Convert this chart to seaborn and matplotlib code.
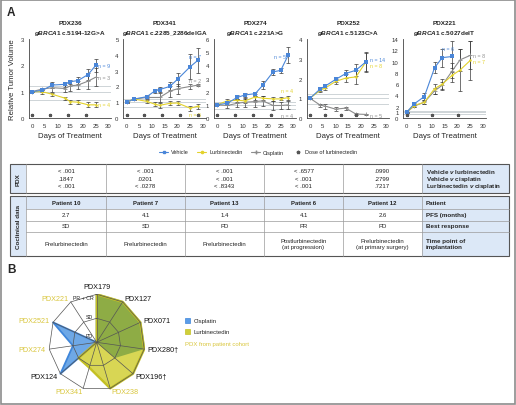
import numpy as np
import matplotlib
matplotlib.use("Agg")
import matplotlib.pyplot as plt
import seaborn as sns
from matplotlib.lines import Line2D
from matplotlib.patches import Rectangle

sns.set_theme(style="white")
plt.rcParams['font.family'] = ['Liberation Sans', 'DejaVu Sans']
plt.rcParams['mathtext.fontset'] = 'custom'
plt.rcParams['mathtext.it'] = 'Liberation Sans:italic:bold'
plt.rcParams['mathtext.rm'] = 'Liberation Sans:bold'

# ---- panel A data (relative tumor volume) ----
pdx_names = ['PDX236', 'PDX341', 'PDX274', 'PDX252', 'PDX221']
mutations = ['c.5194-12G>A', 'c.2285_2286delGA', 'c.221A>G', 'c.5123C>A', 'c.5027delT']
y_max = [3, 5, 6, 4, 14]

days_236 = [0, 4, 8, 13, 15, 18, 22, 25]
veh_236 = [1.0, 1.05, 1.25, 1.28, 1.38, 1.42, 1.65, 2.0]
veh_236_err = [0.02, 0.08, 0.1, 0.1, 0.08, 0.12, 0.2, 0.25]
lur_236 = [1.0, 1.0, 0.9, 0.75, 0.62, 0.6, 0.5, 0.5]
lur_236_err = [0.02, 0.08, 0.06, 0.05, 0.08, 0.08, 0.1, 0.1]
cis_236 = [1.0, 1.1, 1.15, 1.12, 1.22, 1.25, 1.4, 1.55]
cis_236_err = [0.02, 0.05, 0.15, 0.15, 0.2, 0.15, 0.3, 0.35]
dose_236 = [0, 7, 14, 21]

days_341 = [0, 3, 8, 11, 13, 17, 20, 25, 28]
veh_341 = [1.0, 1.2, 1.35, 1.7, 1.8, 2.0, 2.45, 3.25, 3.65]
veh_341_err = [0.03, 0.08, 0.1, 0.12, 0.15, 0.25, 0.4, 0.8, 0.8]
lur_341 = [1.0, 1.2, 1.05, 0.88, 0.8, 0.93, 0.95, 0.62, 0.75]
lur_341_err = [0.03, 0.08, 0.1, 0.12, 0.15, 0.12, 0.15, 0.15, 0.15]
days_341_cis = [0, 3, 8, 13, 17, 20, 25, 28]
cis_341 = [1.0, 1.2, 1.3, 1.3, 1.7, 1.85, 2.0, 2.08]
cis_341_err = [0.03, 0.05, 0.1, 0.3, 0.35, 0.3, 0.15, 0.05]
dose_341 = [0, 7, 14, 21, 28]

days_274 = [0, 4, 8, 11, 15, 18, 22, 25, 28]
veh_274 = [1.0, 1.12, 1.57, 1.75, 1.85, 2.5, 3.5, 3.62, 4.8]
veh_274_err = [0.03, 0.1, 0.15, 0.12, 0.15, 0.3, 0.2, 0.2, 0.6]
lur_274 = [1.0, 1.3, 1.35, 1.3, 1.6, 1.5, 1.45, 1.45, 1.55]
lur_274_err = [0.03, 0.12, 0.12, 0.15, 0.2, 0.15, 0.15, 0.12, 0.15]
cis_274 = [1.0, 0.95, 1.12, 1.2, 1.25, 1.3, 0.95, 0.95, 1.0]
cis_274_err = [0.03, 0.2, 0.3, 0.35, 0.4, 0.4, 0.35, 0.3, 0.3]
dose_274 = [0, 7, 14, 21]

days_252 = [0, 4, 6, 10, 14, 18, 22]
veh_252 = [1.0, 1.47, 1.62, 1.95, 2.25, 2.42, 2.85]
veh_252_err = [0.02, 0.1, 0.12, 0.15, 0.2, 0.3, 0.45]
lur_252 = [1.0, 1.4, 1.52, 1.85, 2.02, 2.08, 2.85]
lur_252_err = [0.02, 0.1, 0.12, 0.15, 0.2, 0.35, 0.5]
cis_252 = [1.0, 0.65, 0.6, 0.45, 0.5, 0.2, 0.18]
cis_252_err = [0.02, 0.08, 0.12, 0.1, 0.08, 0.03, 0.02]
dose_252 = [0, 6, 12, 18]

days_221 = [0, 3, 7, 11, 14, 18, 21, 25]
days_221_veh = [0, 3, 7, 11, 14, 18]
veh_221 = [1.0, 2.5, 3.8, 8.9, 10.7, 10.9]
veh_221_err = [0.05, 0.2, 0.6, 1.0, 1.6, 2.8]
lur_221 = [1.0, 2.2, 2.8, 5.2, 6.0, 7.6, 8.5, 10.2]
lur_221_err = [0.05, 0.2, 0.4, 0.9, 1.0, 1.2, 3.8, 3.5]
cis_221 = [1.0, 2.1, 2.8, 4.8, 5.8, 8.4, 10.3, 11.1]
cis_221_err = [0.05, 0.2, 0.3, 0.5, 0.6, 1.3, 2.0, 2.5]
dose_221 = [0, 10, 20]

# n labels: (day, value, text, series)
n_236 = [(26, 2.0, 'n = 9', 'veh'), (26, 1.55, 'n = 3', 'cis'), (26, 0.5, 'n = 4', 'lur')]
n_341 = [(24.5, 3.9, 'n = 7', 'veh'), (24.5, 2.35, 'n = 2', 'cis'), (24.5, 0.2, 'n = 5', 'lur')]
n_274 = [(22.5, 4.65, 'n = 5', 'veh'), (25, 2.1, 'n = 4', 'lur'), (25, 0.2, 'n = 4', 'cis')]
n_252 = [(23.5, 2.98, 'n = 14', 'veh'), (23.5, 2.68, 'n = 8', 'lur'), (23.5, 0.15, 'n = 5', 'cis')]
n_221 = [(14, 12.4, 'n = 6', 'veh'), (26, 11.0, 'n = 8', 'cis'), (26, 10.0, 'n = 7', 'lur')]

# ---- tables ----
pval_rows = ['Vehicle $\\mathit{v}$ lurbinectedin', 'Vehicle $\\mathit{v}$ cisplatin',
             'Lurbinectedin $\\mathit{v}$ cisplatin']
pval_cols = [['< .001', '.1847', '< .001'],
             ['< .001', '.0201', '< .0278'],
             ['< .001', '< .001', '< .8343'],
             ['< .6577', '< .001', '< .001'],
             ['.0990', '.2799', '.7217']]
patients = ['Patient 10', 'Patient 7', 'Patient 13', 'Patient 6', 'Patient 12']
pfs = ['2.7', '4.1', '1.4', '4.1', '2.6']
best_resp = ['SD', 'SD', 'PD', 'PR', 'PD']
time_point = ['Prelurbinectedin', 'Prelurbinectedin', 'Prelurbinectedin',
              'Postlurbinectedin\n(at progression)', 'Prelurbinectedin\n(at primary surgery)']
clin_rows = ['Patient', 'PFS (months)', 'Best response', 'Time point of\nimplantation']

# ---- panel B radar ----
radar_pdx = ['PDX179', 'PDX127', 'PDX071', 'PDX280†', 'PDX196†', 'PDX238',
             'PDX341', 'PDX124', 'PDX274', 'PDX2521', 'PDX221']
radar_from_cohort = [False, False, False, False, False, True, True, False, True, True, True]
radar_cis = [2, 2, 2, 2, 1, 0, 0, 2, 1, 2, 0]
radar_lur = [2, 2, 2, 2, 2, 2, 1.1, 1, 0, 0, 0]
radar_levels = ['PD', 'SD', 'PR + CR']

blue = '#4a86d8'
yellow = '#e3d22c'
gray = '#8c8c8c'
colors = {'veh': blue, 'lur': yellow, 'cis': gray}
light = '#dce8f7'
cohort_col = '#d9c63c'

W, H = 516, 406
fig = plt.figure(figsize=(W / 100, H / 100), dpi=100)


def px_rect(x, y, w, h):
    return [x / W, 1 - (y + h) / H, w / W, h / H]


ov = fig.add_axes([0, 0, 1, 1])
ov.set_xlim(0, W)
ov.set_ylim(H, 0)
ov.axis('off')
ov.add_patch(Rectangle((0.6, 0.6), W - 1.2, H - 1.2, fill=False, ec='#8c8c8c', lw=1.2))
ov.text(7, 13, 'A', fontsize=8.5, fontweight='bold', va='center')
ov.text(7, 270, 'B', fontsize=8.5, fontweight='bold', va='center')
ov.text(13, 80, 'Relative Tumor Volume', rotation=90, fontsize=5.6, ha='center', va='center')

charts = [
    (days_236, veh_236, veh_236_err, days_236, lur_236, lur_236_err, days_236, cis_236, cis_236_err, dose_236, n_236),
    (days_341, veh_341, veh_341_err, days_341, lur_341, lur_341_err, days_341_cis, cis_341, cis_341_err, dose_341, n_341),
    (days_274, veh_274, veh_274_err, days_274, lur_274, lur_274_err, days_274, cis_274, cis_274_err, dose_274, n_274),
    (days_252, veh_252, veh_252_err, days_252, lur_252, lur_252_err, days_252, cis_252, cis_252_err, dose_252, n_252),
    (days_221_veh, veh_221, veh_221_err, days_221, lur_221, lur_221_err, days_221, cis_221, cis_221_err, dose_221, n_221),
]
x0_px = [32, 126.5, 217, 310, 406.5]
px_per_day = 2.55

for i, ch in enumerate(charts):
    dv, v, ve, dl, l, le, dc, c, ce, dose, nlab = ch
    ax = fig.add_axes(px_rect(x0_px[i] - 1.2 * px_per_day, 40, 32.2 * px_per_day, 79))
    for ref in [0.7, 1.0, 1.2]:
        ax.axhline(ref, color='#c6cdd1', lw=0.6, zorder=1)
    for dd, yy, ee, key, mk, ms in [(dc, c, ce, 'cis', '+', 2.5), (dl, l, le, 'lur', 'o', 1.8),
                                   (dv, v, ve, 'veh', 's', 2.2)]:
        ax.errorbar(dd, yy, yerr=ee, fmt='none', ecolor='#3a3a3a', elinewidth=0.5,
                    capsize=1.2, capthick=0.5, zorder=2)
        sns.lineplot(x=dd, y=yy, ax=ax, color=colors[key], marker=mk, markersize=ms,
                     markeredgewidth=0.6 if mk == '+' else 0, markeredgecolor=colors[key],
                     linewidth=0.8, zorder=3)
    ax.plot(dose, [0.035 * y_max[i]] * len(dose), ls='none', marker='*', ms=2.2,
            color='#555555', clip_on=False, zorder=4)
    for xd, yv, txt, key in nlab:
        ax.text(xd, yv, txt, color=colors[key], fontsize=3.8, va='center', ha='left')
    ax.set_xlim(-1.2, 31)
    ax.set_ylim(0, y_max[i])
    ax.set_xticks(range(0, 31, 5))
    if i == 4:
        ax.set_yticks([0, 1, 2, 4, 6, 8, 10, 12, 14])
    else:
        ax.set_yticks(range(0, y_max[i] + 1))
    ax.tick_params(labelsize=4.3, length=2, width=0.5, pad=1.5, colors='#333333')
    for s in ['top', 'right']:
        ax.spines[s].set_visible(False)
    for s in ['left', 'bottom']:
        ax.spines[s].set_color('#444444')
        ax.spines[s].set_linewidth(0.6)
    ax.set_xlabel('Days of Treatment', fontsize=5.6, labelpad=3)
    ax.set_ylabel('')
    ax.set_title(pdx_names[i] + '\n$\\mathit{gBRCA1}$ ' + mutations[i], fontsize=4.6,
                 fontweight='bold', pad=3.5, linespacing=1.5)

handles = [Line2D([], [], color=blue, marker='s', ms=2, lw=0.8),
           Line2D([], [], color=yellow, marker='o', ms=1.6, lw=0.8),
           Line2D([], [], color=gray, marker='+', ms=2.5, lw=0.8),
           Line2D([], [], color='#555555', marker='*', ms=2.5, ls='none')]
fig.legend(handles, ['Vehicle', 'Lurbinectedin', 'Cisplatin', 'Dose of lurbinectedin'],
           loc='center', bbox_to_anchor=(258 / W, 1 - 153 / H), ncol=4, fontsize=4,
           frameon=False, handlelength=1.6, columnspacing=1.6, handletextpad=0.5)

# ---- tables drawn on the overlay ----
col_edges = [26, 106, 185, 264, 343, 422]
right_end = 509
line_c = '#9a9a9a'
val_fs = 4.3

t1_top, t1_bot = 165, 194
ov.add_patch(Rectangle((10, t1_top), 16, t1_bot - t1_top, fc=light, ec='none'))
ov.add_patch(Rectangle((422, t1_top), right_end - 422, t1_bot - t1_top, fc=light, ec='none'))
for xb in col_edges:
    ov.plot([xb, xb], [t1_top, t1_bot], color=line_c, lw=0.5)
ov.add_patch(Rectangle((10, t1_top), right_end - 10, t1_bot - t1_top, fill=False, ec='#555555', lw=0.8))
ov.text(18, (t1_top + t1_bot) / 2, 'PDX', rotation=90, fontsize=4.5, fontweight='bold',
        ha='center', va='center')
row_y1 = [172, 179.5, 187]
for j, col in enumerate(pval_cols):
    cx = (col_edges[j] + col_edges[j + 1]) / 2
    for k, val in enumerate(col):
        ov.text(cx, row_y1[k], val, fontsize=val_fs, ha='center', va='center', color='#222222')
for k, lab in enumerate(pval_rows):
    ov.text(426, row_y1[k], lab, fontsize=4.5, fontweight='bold', ha='left', va='center')

t2_top, t2_bot = 197, 257
row_edges = [197, 209.5, 221.5, 232.5, 257]
ov.add_patch(Rectangle((10, t2_top), 16, t2_bot - t2_top, fc=light, ec='none'))
ov.add_patch(Rectangle((26, t2_top), right_end - 26, row_edges[1] - t2_top, fc=light, ec='none'))
ov.add_patch(Rectangle((422, t2_top), right_end - 422, t2_bot - t2_top, fc=light, ec='none'))
for xb in col_edges:
    ov.plot([xb, xb], [t2_top, t2_bot], color=line_c, lw=0.5)
for yb in row_edges[1:-1]:
    ov.plot([26, right_end], [yb, yb], color=line_c, lw=0.5)
ov.add_patch(Rectangle((10, t2_top), right_end - 10, t2_bot - t2_top, fill=False, ec='#555555', lw=0.8))
ov.text(18, (t2_top + t2_bot) / 2, 'Coclinical data', rotation=90, fontsize=4.5,
        fontweight='bold', ha='center', va='center')
rows2 = [patients, pfs, best_resp, time_point]
for r, vals in enumerate(rows2):
    cy = (row_edges[r] + row_edges[r + 1]) / 2
    for j, val in enumerate(vals):
        cx = (col_edges[j] + col_edges[j + 1]) / 2
        ov.text(cx, cy, val, fontsize=val_fs, ha='center', va='center', color='#222222',
                fontweight='bold' if r == 0 else 'normal', linespacing=1.3)
    ov.text(426, cy, clin_rows[r], fontsize=4.5, fontweight='bold', ha='left', va='center',
            linespacing=1.3)

# ---- panel B radar (straight-edged, drawn on an equal-aspect axes) ----
R = 48
rad = fig.add_axes(px_rect(96.7 - R, 343.3 - R, 2 * R, 2 * R))
rad.set_xlim(-2, 2)
rad.set_ylim(-2, 2)
rad.set_aspect('equal')
rad.axis('off')
n = len(radar_pdx)
theta = np.linspace(0, 2 * np.pi, n, endpoint=False)
th = np.append(theta, theta[0])
sx, cy_ = np.sin(th), np.cos(th)

cis_c = np.append(radar_cis, radar_cis[0])
lur_c = np.append(radar_lur, radar_lur[0])
both_c = np.minimum(cis_c, lur_c)
rad.fill(cis_c * sx, cis_c * cy_, color='#6ea8e6', lw=0, zorder=1)
rad.plot(cis_c * sx, cis_c * cy_, color='#3f86da', lw=1.3, zorder=2)
rad.fill(lur_c * sx, lur_c * cy_, color='#d8d654', lw=0, zorder=3)
rad.fill(both_c * sx, both_c * cy_, color='#8eac45', lw=0, zorder=4)
rad.plot(lur_c * sx, lur_c * cy_, color='#c4c024', lw=1.7, zorder=5)
for lvl in [1, 2]:
    rad.plot(lvl * sx, lvl * cy_, color='#555555', lw=0.5, zorder=6)
for t in theta:
    rad.plot([0, 2 * np.sin(t)], [0, 2 * np.cos(t)], color='#555555', lw=0.5, zorder=6)
for t, name, coh in zip(theta, radar_pdx, radar_from_cohort):
    if np.isclose(t, 0):
        rr, ha = 2.33, 'center'
    else:
        rr, ha = 2.15, ('left' if t < np.pi else 'right')
    rad.text(rr * np.sin(t), rr * np.cos(t), name, fontsize=5.2, ha=ha, va='center',
             color=cohort_col if coh else '#111111', clip_on=False)
for lab, rr, ang in zip(radar_levels, [0.42, 1.12, 1.95], [-49, -16, -16]):
    a = np.deg2rad(ang)
    rad.text(rr * np.sin(a), rr * np.cos(a), lab, fontsize=3.8, ha='center', va='center',
             zorder=7, color='#222222')

ov.add_patch(Rectangle((185, 319), 5, 5, fc='#5a9ce8', ec='#3f86da', lw=0.5))
ov.text(194, 321.5, 'Cisplatin', fontsize=4.3, va='center')
ov.add_patch(Rectangle((185, 330), 5, 5, fc='#cfcf3a', ec='#c4c024', lw=0.5))
ov.text(194, 332.5, 'Lurbinectedin', fontsize=4.3, va='center')
ov.text(185, 345, 'PDX from patient cohort', fontsize=4.3, va='center', color=cohort_col)

fig.savefig('out.png', dpi=100)
